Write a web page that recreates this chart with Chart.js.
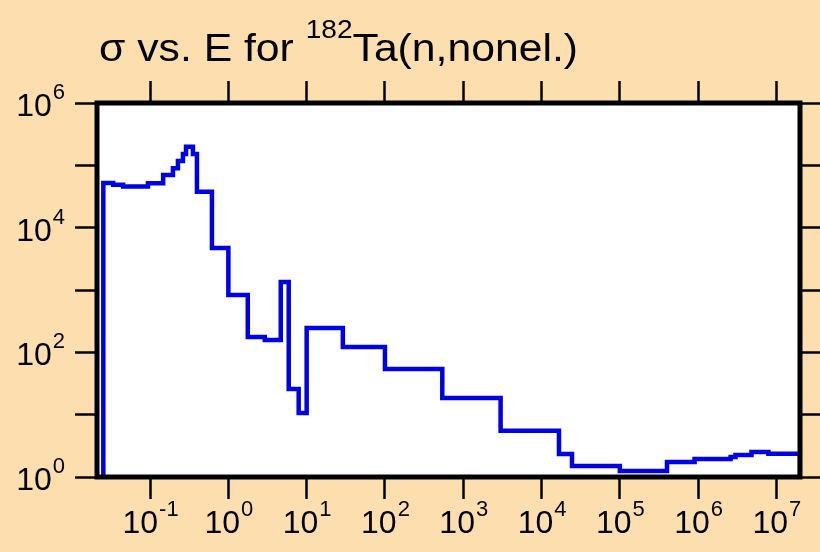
<!DOCTYPE html>
<html>
<head>
<meta charset="utf-8">
<script src="https://cdn.jsdelivr.net/npm/chart.js@4"></script>
<style>
  html, body { margin: 0; padding: 0; background: #FDDEAE; }
  canvas { display: block; }
</style>
</head>
<body>
<canvas id="xs" width="820" height="552"></canvas>
<script>
// group lower edges (eV) and group cross sections (b)
const energies = [0.0253, 0.0338, 0.0453, 0.094, 0.147, 0.196, 0.227, 0.263, 0.288, 0.353, 0.397, 0.617,
  1.0, 1.77, 2.92, 4.67, 5.9, 7.91, 10, 29, 100, 540, 3000, 16700, 24500, 1e5, 4e5, 9e5, 2.6e6, 3.0e6, 4.8e6, 7.9e6];
const sigma = [5.2e4, 4.86e4, 4.57e4, 5.18e4, 7.0e4, 9.0e4, 1.17e5, 1.52e5, 1.98e5, 1.52e5, 3.76e4, 4.74e3,
  834, 177, 158, 1350, 25.8, 10.6, 246, 122, 54, 18.5, 5.5, 2.34, 1.50, 1.25, 1.74, 1.94, 2.09, 2.25, 2.52, 2.37];
const eEnd = 2e7;

const xTicks = [1e-1, 1e0, 1e1, 1e2, 1e3, 1e4, 1e5, 1e6, 1e7];
const yTicks = [1e0, 1e1, 1e2, 1e3, 1e4, 1e5, 1e6];
const yLabelled = [1e0, 1e2, 1e4, 1e6];

const FONT = '"Liberation Sans", Arial, sans-serif';

// histogram outline: rise from the floor, group steps, drop at the end
const points = [{ x: energies[0], y: 1 }];
energies.forEach((e, i) => points.push({ x: e, y: sigma[i] }));
points.push({ x: eEnd, y: sigma[sigma.length - 1] });
points.push({ x: eEnd, y: 1 });

function decades(list) {
  return scale => { scale.ticks = list.map(v => ({ value: v })); };
}

function axis(position, min, max, list, size) {
  const horiz = position === 'top' || position === 'bottom';
  return {
    type: 'logarithmic',
    position,
    min, max,
    afterBuildTicks: decades(list),
    afterFit: s => { if (horiz) s.height = size; else s.width = size; },
    ticks: { display: false },
    border: { display: false },
    grid: { drawOnChartArea: false, drawTicks: true, tickLength: 22, tickWidth: 2.5, tickColor: '#000' }
  };
}

// "10" with a raised exponent
function power(ctx, exp, x, y, align) {
  ctx.font = '32px ' + FONT;
  const wb = ctx.measureText('10').width;
  ctx.font = '22px ' + FONT;
  const we = ctx.measureText(exp).width;
  const x0 = align === 'center' ? x - (wb + we) / 2 : x - wb - we;
  ctx.textAlign = 'left';
  ctx.textBaseline = 'alphabetic';
  ctx.font = '32px ' + FONT;
  ctx.fillText('10', x0, y);
  ctx.font = '22px ' + FONT;
  ctx.fillText(exp, x0 + wb + 1, y - 17);
}

function title(ctx) {
  const a = '\u03c3 vs. E for ', b = '182', c = 'Ta(n,nonel.)';
  ctx.font = '38px ' + FONT;
  const wa = ctx.measureText(a).width, wc = ctx.measureText(c).width;
  ctx.font = '25px ' + FONT;
  const wb = ctx.measureText(b).width;
  const sx = 479 / (wa + wb + wc);
  ctx.save();
  ctx.translate(99, 0);
  ctx.scale(sx, 1);
  ctx.textAlign = 'left';
  ctx.textBaseline = 'alphabetic';
  ctx.font = '38px ' + FONT;
  ctx.fillText(a, 0, 61);
  ctx.fillText(c, wa + wb, 61);
  ctx.font = '25px ' + FONT;
  ctx.fillText(b, wa, 38);
  ctx.restore();
}

const frame = {
  id: 'frame',
  beforeDraw(chart) {
    const { ctx, chartArea: a } = chart;
    ctx.save();
    ctx.fillStyle = '#fff';
    ctx.fillRect(a.left, a.top, a.right - a.left, a.bottom - a.top);
    ctx.restore();
  },
  afterDraw(chart) {
    const { ctx, chartArea: a, scales } = chart;
    ctx.save();
    ctx.strokeStyle = '#000';
    ctx.lineWidth = 5;
    ctx.strokeRect(a.left, a.top, a.right - a.left, a.bottom - a.top);

    ctx.fillStyle = '#000';
    xTicks.forEach(v => power(ctx, String(Math.round(Math.log10(v))), scales.x.getPixelForValue(v), 533, 'center'));
    yLabelled.forEach(v => {
      const py = scales.y.getPixelForValue(v);
      power(ctx, String(Math.round(Math.log10(v))), 64, py + 13, 'right');
    });
    title(ctx);
    ctx.restore();
  }
};

new Chart(document.getElementById('xs'), {
  type: 'line',
  data: {
    datasets: [{
      data: points,
      stepped: 'before',
      borderColor: '#0000E6',
      borderWidth: 4.5,
      pointRadius: 0,
      fill: false
    }]
  },
  options: {
    responsive: false,
    animation: false,
    devicePixelRatio: 1,
    layout: { padding: 0 },
    plugins: { legend: { display: false }, tooltip: { enabled: false }, title: { display: false } },
    scales: {
      x: axis('bottom', 0.021, eEnd, xTicks, 75),
      x2: axis('top', 0.021, eEnd, xTicks, 103),
      y: axis('left', 1, 1e6, yTicks, 97),
      y2: axis('right', 1, 1e6, yTicks, 20)
    }
  },
  plugins: [frame]
});
</script>
</body>
</html>
